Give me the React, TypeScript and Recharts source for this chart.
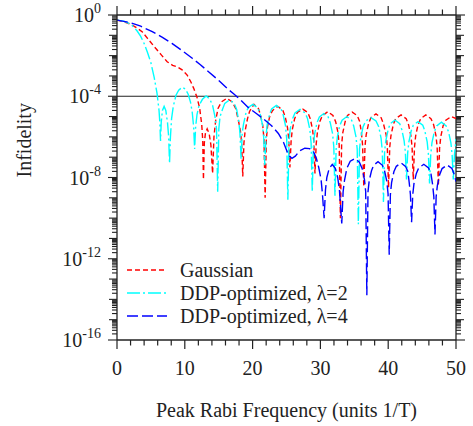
import { LineChart, Line, XAxis, YAxis, ReferenceLine, Legend } from 'recharts'

// peak Rabi frequency (units 1/T) and log10(infidelity)
const gaussianLog10: [number, number][] = [
  [0, -0.25], [1, -0.33], [2, -0.45], [3, -0.65], [3.7, -0.82], [4.5, -1.15], [5.7, -1.64], [6.5, -1.95],
  [7.4, -2.3], [8.2, -2.48], [8.9, -2.55], [9.6, -2.7], [10.35, -2.96], [10.9, -3.3], [11.3, -3.6], [11.8, -4.05],
  [12.2, -4.6], [12.5, -5.4], [12.65, -6.2], [12.75, -8.1], [12.88, -6.3], [13.05, -5.8], [13.3, -5.6], [13.6, -5.85],
  [13.85, -6.4], [14.1, -7.8], [14.3, -6.0], [14.55, -5.2], [14.9, -4.6], [15.4, -4.28], [16.2, -4.1], [17.0, -4.28],
  [17.5, -4.6], [17.85, -5.1], [18.2, -5.7], [18.38, -6.3], [18.55, -7.95], [18.72, -6.3], [18.9, -5.7], [19.25, -5.1],
  [19.55, -4.75], [20.2, -4.4], [20.85, -4.6], [21.15, -4.9], [21.5, -5.45], [21.68, -6.1], [21.85, -9.0], [22.03, -6.1],
  [22.2, -5.5], [22.55, -4.95], [22.95, -4.7], [23.7, -4.5], [24.45, -4.68], [24.8, -5.0], [25.15, -5.55], [25.33, -6.1],
  [25.5, -7.5], [25.68, -6.2], [25.85, -5.65], [26.2, -5.1], [26.6, -4.8], [27.4, -4.63], [28.15, -4.8], [28.5, -5.1],
  [28.85, -5.65], [29.02, -6.2], [29.2, -7.8], [29.38, -6.35], [29.55, -5.8], [29.9, -5.25], [30.3, -4.95], [31.1, -4.76],
  [31.85, -4.95], [32.25, -5.25], [32.6, -5.8], [32.77, -6.4], [32.95, -10.0], [33.13, -6.4], [33.3, -5.8], [33.65, -5.25],
  [34.0, -4.95], [34.7, -4.78], [35.45, -4.96], [35.8, -5.25], [36.05, -5.8], [36.22, -6.4], [36.4, -8.45], [36.58, -6.45],
  [36.75, -5.9], [37.1, -5.35], [37.45, -5.05], [38.2, -4.87], [38.95, -5.05], [39.3, -5.35], [39.7, -5.9], [39.87, -6.5],
  [40.05, -8.5], [40.23, -6.5], [40.4, -5.95], [40.75, -5.4], [41.1, -5.1], [41.9, -4.92], [42.65, -5.1], [43.0, -5.4],
  [43.35, -5.95], [43.52, -6.5], [43.7, -8.1], [43.88, -6.5], [44.05, -5.95], [44.4, -5.4], [44.8, -5.1], [45.55, -4.92],
  [46.3, -5.1], [46.7, -5.4], [47.05, -5.95], [47.22, -6.5], [47.4, -8.4], [47.58, -6.55], [47.75, -6.0], [48.1, -5.45],
  [48.5, -5.18], [49.3, -5.0], [50, -5.1],
]

const ddp2Log10: [number, number][] = [
  [0, -0.25], [1, -0.3], [2, -0.45], [2.5, -0.6], [3, -0.8], [3.5, -1.05], [4, -1.4], [4.5, -1.85], [5, -2.35],
  [5.5, -3.1], [5.9, -3.85], [6.2, -4.7], [6.32, -5.3], [6.42, -6.2], [6.52, -5.3], [6.7, -4.7], [6.95, -4.5],
  [7.2, -4.7], [7.45, -5.3], [7.62, -6.0], [7.75, -7.3], [7.88, -6.0], [8.05, -5.1], [8.3, -4.5], [8.7, -3.95],
  [9.1, -3.7], [9.6, -3.56], [10.1, -3.65], [10.5, -3.9], [10.85, -4.3], [11.1, -4.8], [11.3, -5.5], [11.45, -6.6],
  [11.6, -5.5], [11.8, -4.9], [12.1, -4.45], [12.6, -4.15], [13.15, -3.99], [13.7, -4.15], [14.1, -4.45], [14.45, -5.0],
  [14.68, -5.6], [14.85, -8.7], [15.02, -5.6], [15.2, -5.0], [15.55, -4.65], [15.9, -4.35], [16.6, -4.18], [17.3, -4.35],
  [17.65, -4.65], [17.95, -5.2], [18.13, -5.8], [18.3, -7.1], [18.47, -5.8], [18.65, -5.4], [19.0, -4.85], [19.35, -4.55],
  [20.05, -4.4], [20.75, -4.57], [21.1, -4.85], [21.45, -5.4], [21.63, -6.0], [21.8, -7.4], [21.97, -6.0], [22.15, -5.4],
  [22.5, -4.9], [22.8, -4.63], [23.5, -4.45], [24.2, -4.63], [24.5, -4.9], [24.85, -5.45], [25.03, -6.1], [25.2, -9.1],
  [25.37, -6.2], [25.55, -5.6], [25.9, -5.1], [26.25, -4.82], [27.0, -4.65], [27.75, -4.82], [28.1, -5.1], [28.45, -5.65],
  [28.63, -6.3], [28.8, -8.7], [28.97, -6.4], [29.15, -5.85], [29.5, -5.3], [29.85, -5.02], [30.5, -4.85], [31.15, -5.02],
  [31.45, -5.3], [31.8, -5.85], [31.98, -6.5], [32.15, -8.9], [32.32, -6.6], [32.5, -6.0], [32.85, -5.45], [33.2, -5.18],
  [33.9, -5.0], [34.6, -5.18], [34.9, -5.45], [35.25, -6.0], [35.43, -6.6], [35.6, -10.3], [35.77, -6.6], [35.95, -6.05],
  [36.3, -5.5], [36.7, -5.22], [37.45, -5.05], [38.2, -5.22], [38.6, -5.5], [38.95, -6.07], [39.13, -6.7], [39.3, -9.2],
  [39.47, -6.7], [39.65, -6.2], [40.0, -5.63], [40.3, -5.35], [41.0, -5.17], [41.7, -5.35], [42.0, -5.63], [42.35, -6.2],
  [42.53, -6.75], [42.7, -8.1], [42.87, -6.8], [43.05, -6.25], [43.4, -5.7], [43.7, -5.43], [44.4, -5.25], [45.1, -5.43],
  [45.4, -5.7], [45.75, -6.25], [45.93, -6.85], [46.1, -8.3], [46.27, -6.9], [46.45, -6.3], [46.8, -5.75], [47.15, -5.46],
  [47.85, -5.28], [48.55, -5.46], [48.9, -5.75], [49.25, -6.3], [49.43, -6.9], [49.6, -8.1], [49.77, -6.9], [50, -6.1],
]

const ddp4Log10: [number, number][] = [
  [0, -0.25], [1.77, -0.36], [3.5, -0.55], [5.2, -0.82], [6.7, -1.1], [8.1, -1.4], [9.6, -1.75], [11.1, -2.13],
  [12.3, -2.45], [13.5, -2.79], [15, -3.22], [16.5, -3.69], [17.2, -3.88], [18.3, -4.2], [19.35, -4.55], [20.6, -4.86],
  [21.8, -5.17], [22.8, -5.45], [23.8, -5.83], [24.6, -6.3], [25.3, -6.9], [25.8, -7.06], [26.3, -6.95], [26.9, -6.7],
  [27.7, -6.56], [28.4, -6.58], [28.95, -6.7], [29.4, -7.05], [29.75, -7.5], [30.1, -8.1], [30.3, -8.8], [30.55, -10.0],
  [30.75, -8.6], [30.95, -8.0], [31.3, -7.55], [31.75, -7.36], [32.2, -7.55], [32.55, -8.0], [32.8, -8.6], [33.15, -10.26],
  [33.35, -8.7], [33.55, -8.15], [33.9, -7.55], [34.4, -7.2], [35.1, -7.06], [35.75, -7.25], [36.15, -7.55], [36.5, -8.1],
  [36.68, -8.7], [36.85, -13.8], [37.02, -8.7], [37.2, -8.15], [37.55, -7.65], [37.85, -7.4], [38.5, -7.22], [39.15, -7.4],
  [39.45, -7.65], [39.8, -8.2], [39.98, -8.8], [40.15, -11.8], [40.32, -8.85], [40.5, -8.25], [40.85, -7.7], [41.2, -7.45],
  [41.9, -7.28], [42.55, -7.45], [42.9, -7.7], [43.1, -8.25], [43.28, -8.85], [43.45, -10.2], [43.62, -8.85], [43.8, -8.3],
  [44.15, -7.8], [44.5, -7.53], [45.25, -7.35], [45.95, -7.53], [46.3, -7.8], [46.55, -8.35], [46.73, -8.95], [46.9, -10.8],
  [47.07, -8.95], [47.25, -8.4], [47.6, -7.85], [47.95, -7.56], [48.7, -7.38], [49.4, -7.56], [49.75, -7.85], [50, -8.2],
]

const xTicks = [0, 2, 4, 6, 8, 10, 12, 14, 16, 18, 20, 22, 24, 26, 28, 30, 32, 34, 36, 38, 40, 42, 44, 46, 48, 50]
const xLabelled = [0, 10, 20, 30, 40, 50]
const yLabelExponents = [0, -4, -8, -12, -16]

const series = [
  { key: 'gauss', name: 'Gaussian', color: '#ff0000', dash: '5 3', points: gaussianLog10 },
  { key: 'ddp2', name: 'DDP-optimized, \u03bb=2', color: '#00ffff', dash: '13 3 2 3', points: ddp2Log10 },
  { key: 'ddp4', name: 'DDP-optimized, \u03bb=4', color: '#0000ff', dash: '11 4', points: ddp4Log10 },
]

const yTicks: number[] = []
for (let e = 0; e >= -16; e--) {
  yTicks.push(Math.pow(10, e))
  if (e > -16) for (let m = 2; m <= 9; m++) yTicks.push(m * Math.pow(10, e - 1))
}

const W = 473
const H = 426
const PL = 117
const PR = 456
const PT = 15
const PB = 340
const FONT = 'Liberation Serif, DejaVu Serif, serif'
const INK = '#222'

function XTick(props: any) {
  const { x, payload } = props
  const v = payload.value
  const major = xLabelled.includes(v)
  const len = major ? 9 : 5.5
  return (
    <g>
      <line x1={x} x2={x} y1={PB} y2={PB + len} stroke={INK} strokeWidth={1.2} />
      <line x1={x} x2={x} y1={PT} y2={PT - len} stroke={INK} strokeWidth={1.2} />
      {major && (
        <text x={x} y={375} textAnchor="middle" fontSize={20} style={{ fontFamily: FONT }} fill={INK}>
          {v}
        </text>
      )}
    </g>
  )
}

function YTick(props: any) {
  const { y, payload } = props
  const e = Math.log10(payload.value)
  const decade = Math.abs(e - Math.round(e)) < 1e-6
  const labelled = decade && yLabelExponents.includes(Math.round(e))
  const len = labelled ? 9 : decade ? 8 : 5
  return (
    <g>
      <line x1={PL - len} x2={PL} y1={y} y2={y} stroke={INK} strokeWidth={1.1} />
      <line x1={PR} x2={PR + len} y1={y} y2={y} stroke={INK} strokeWidth={1.1} />
      {labelled && (
        <text x={101} y={y + 7} textAnchor="end" fontSize={20} style={{ fontFamily: FONT }} fill={INK}>
          10
          <tspan dy={-9} fontSize={14}>
            {Math.round(e)}
          </tspan>
        </text>
      )}
    </g>
  )
}

function LegendBox() {
  return (
    <svg width={340} height={80}>
      {series.map((s, i) => {
        const cy = 15 + i * 23
        return (
          <g key={s.key}>
            <line x1={7} x2={47} y1={cy} y2={cy} stroke={s.color} strokeWidth={1.5} strokeDasharray={s.dash} />
            <text x={60} y={cy + 7} fontSize={20} style={{ fontFamily: FONT }} fill={INK}>
              {s.name}
            </text>
          </g>
        )
      })}
    </svg>
  )
}

export default function App() {
  return (
    <div style={{ position: 'absolute', left: 0, top: 0, width: W, height: H, background: '#fff', fontFamily: FONT }}>
      <LineChart width={W} height={H} margin={{ top: PT, right: W - PR, bottom: 0, left: 0 }} style={{ fontFamily: FONT }}>
        <XAxis
          type="number"
          dataKey="x"
          domain={[0, 50]}
          ticks={xTicks}
          interval={0}
          height={H - PB}
          tickLine={false}
          axisLine={{ stroke: INK, strokeWidth: 1.3 }}
          tick={<XTick />}
          allowDataOverflow
          label={{ value: 'Peak Rabi Frequency (units 1/T)', position: 'insideBottom', offset: 9, fontSize: 20, style: { fontFamily: FONT }, fill: INK }}
        />
        <YAxis
          type="number"
          dataKey="y"
          scale="log"
          domain={[1e-16, 1]}
          ticks={yTicks}
          interval={0}
          width={PL}
          tickLine={false}
          axisLine={{ stroke: INK, strokeWidth: 1.3 }}
          tick={<YTick />}
          allowDataOverflow
          label={{ value: 'Infidelity', angle: -90, position: 'insideLeft', offset: 24, fontSize: 20, style: { fontFamily: FONT }, fill: INK }}
        />
        <ReferenceLine y={1} stroke={INK} strokeWidth={1.3} />
        <ReferenceLine x={50} stroke={INK} strokeWidth={1.3} />
        <ReferenceLine y={1e-4} stroke={INK} strokeWidth={1.2} />
        {series.map((s) => (
          <Line
            key={s.key}
            data={s.points.map(([x, l]) => ({ x, y: Math.pow(10, l) }))}
            dataKey="y"
            type="linear"
            stroke={s.color}
            strokeWidth={1.4}
            strokeDasharray={s.dash}
            dot={false}
            isAnimationActive={false}
          />
        ))}
        <Legend
          layout="vertical"
          align="center"
          verticalAlign="middle"
          content={<LegendBox />}
          wrapperStyle={{ left: 120, top: 255, width: 340, height: 80 }}
        />
      </LineChart>
    </div>
  )
}
